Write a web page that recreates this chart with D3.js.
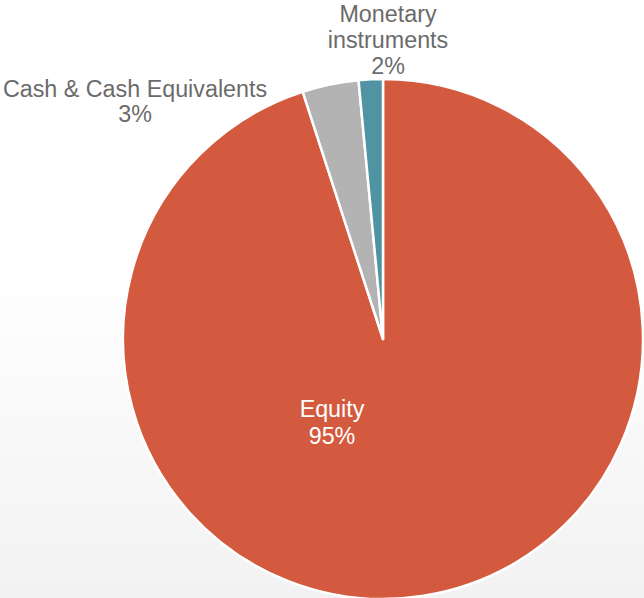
<!DOCTYPE html>
<html>
<head>
<meta charset="utf-8">
<script src="https://cdn.jsdelivr.net/npm/d3@7"></script>
<style>
  html, body { margin: 0; padding: 0; background: #fff; }
  svg { display: block; }
</style>
</head>
<body>
<script>
const categories = ["Equity", "Cash & Cash Equivalents", "Monetary instruments"];
const values = [95.0, 3.5, 1.5];
const valueLabels = ["95%", "3%", "2%"];
const colors = ["#D35A3E", "#B3B3B3", "#5093A3"];

const W = 644, H = 598;
const cx = 383, cy = 339, R = 260;

const svg = d3.select("body").append("svg").attr("width", W).attr("height", H);
const defs = svg.append("defs");
const grad = defs.append("linearGradient").attr("id", "bg").attr("x1", 0).attr("y1", 0).attr("x2", 0).attr("y2", 1);
grad.append("stop").attr("offset", "0%").attr("stop-color", "#ffffff");
grad.append("stop").attr("offset", "45%").attr("stop-color", "#ffffff");
grad.append("stop").attr("offset", "100%").attr("stop-color", "#f2f2f2");
svg.append("rect").attr("width", W).attr("height", H).attr("fill", "url(#bg)");

const data = categories.map((c, i) => ({ cat: c, value: values[i], label: valueLabels[i], color: colors[i] }));
const pie = d3.pie().value(d => d.value).sort(null);
const arc = d3.arc().innerRadius(0).outerRadius(R);

const g = svg.append("g").attr("transform", `translate(${cx},${cy})`);
const arcs = pie(data);
g.selectAll("path").data(arcs).join("path")
  .attr("d", arc)
  .attr("fill", d => d.data.color)
  .attr("stroke", "#ffffff")
  .attr("stroke-width", 2.5)
  .attr("stroke-linejoin", "round");

// label positions (relative to pie centre)
const labelPos = [
  { x: -51, lines: [{ t: "Equity", y: 78 }, { t: null, y: 105 }], fill: "#ffffff" },
  { x: -248, lines: [{ t: "Cash & Cash Equivalents", y: -242 }, { t: null, y: -217 }], fill: "#6b6b6b" },
  { x: 5, lines: [{ t: "Monetary", y: -317 }, { t: "instruments", y: -291 }, { t: null, y: -265 }], fill: "#6b6b6b" }
];

arcs.forEach((a, i) => {
  const p = labelPos[i];
  const t = g.append("text")
    .attr("text-anchor", "middle")
    .attr("font-family", "Arial, 'Liberation Sans', sans-serif")
    .attr("font-size", 23.3)
    .attr("fill", p.fill);
  p.lines.forEach(l => {
    t.append("tspan").attr("x", p.x).attr("y", l.y).text(l.t === null ? a.data.label : l.t);
  });
});
</script>
</body>
</html>
